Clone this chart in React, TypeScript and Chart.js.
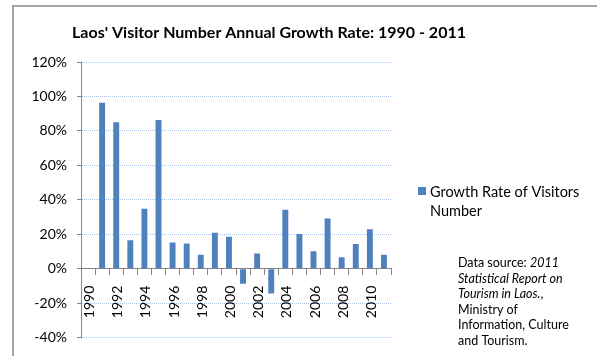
import React, { useEffect, useRef } from 'react';
import { Chart, registerables } from 'chart.js';

Chart.register(...registerables);

const years = ['1990', '1991', '1992', '1993', '1994', '1995', '1996', '1997', '1998', '1999', '2000', '2001', '2002', '2003', '2004', '2005', '2006', '2007', '2008', '2009', '2010', '2011'];
const growthRate = [null, 96.3, 85.0, 16.5, 34.8, 86.3, 15.2, 14.6, 8.1, 20.9, 18.6, -8.8, 8.8, -14.4, 34.2, 20.2, 10.2, 29.2, 6.7, 14.4, 22.9, 8.1];
const yMin = -40;
const yMax = 120;
const yStep = 20;
const titleText = "Laos' Visitor Number Annual Growth Rate: 1990 - 2011";
const legendLines = ['Growth Rate of Visitors', 'Number'];
const sourceLines: [string, boolean][][] = [
  [['Data source: ', false], ['2011', true]],
  [['Statistical Report on', true]],
  [['Tourism in Laos.', true], [',', false]],
  [['Ministry of', false]],
  [['Information, Culture', false]],
  [['and Tourism.', false]],
];

const FONT = 'Lato, "Open Sans", sans-serif';
const BAR = '#4f81bd';

const decorPlugin = {
  id: 'decor',
  beforeDraw(chart: any) {
    const ctx = chart.ctx;
    ctx.save();
    ctx.fillStyle = '#ffffff';
    ctx.fillRect(0, 0, chart.width, chart.height);
    ctx.strokeStyle = '#a6a6a6';
    ctx.lineWidth = 2;
    ctx.strokeRect(13, 6, 620, 400);
    ctx.restore();
  },
  afterDraw(chart: any) {
    const ctx = chart.ctx;
    const xs = chart.scales.x;
    const ys = chart.scales.y;
    ctx.save();
    // x-axis tick labels (vertical, reading upward), every other year
    const y0 = ys.getPixelForValue(0);
    ctx.fillStyle = '#000';
    ctx.font = `14px ${FONT}`;
    ctx.textAlign = 'right';
    ctx.textBaseline = 'middle';
    years.forEach((yr, i) => {
      if (i % 2 !== 0) return;
      const x = xs.getPixelForValue(i);
      ctx.save();
      ctx.translate(x + 1.5, y0 + 17);
      ctx.rotate(-Math.PI / 2);
      ctx.fillText(yr, 0, 0);
      ctx.restore();
    });
    // title
    ctx.font = `bold 16px ${FONT}`;
    ctx.textAlign = 'center';
    ctx.textBaseline = 'alphabetic';
    ctx.fillText(titleText, 269, 38);
    // legend
    ctx.fillStyle = BAR;
    ctx.fillRect(418, 187, 8, 8);
    ctx.fillStyle = '#000';
    ctx.font = `14.5px ${FONT}`;
    ctx.textAlign = 'left';
    ctx.fillText(legendLines[0], 430, 197);
    ctx.fillText(legendLines[1], 430, 216);
    // data source note
    let y = 267;
    for (const line of sourceLines) {
      let x = 458;
      for (const [txt, it] of line) {
        ctx.font = `${it ? 'italic ' : ''}12.5px ${FONT}`;
        ctx.fillText(txt, x, y);
        x += ctx.measureText(txt).width;
      }
      y += 15.5;
    }
    ctx.restore();
  },
};

export default function App() {
  const ref = useRef<HTMLCanvasElement>(null);
  useEffect(() => {
    const chart = new Chart(ref.current!, {
      type: 'bar',
      data: {
        labels: years,
        datasets: [
          {
            label: legendLines.join(' '),
            data: growthRate as any,
            backgroundColor: BAR,
            borderWidth: 0,
            barPercentage: 0.42,
            categoryPercentage: 1,
          },
        ],
      },
      options: {
        responsive: false,
        animation: false,
        layout: { padding: { left: 0, top: 62, right: 206, bottom: 16 } },
        plugins: { legend: { display: false }, title: { display: false }, tooltip: { enabled: false } },
        scales: {
          x: {
            position: { y: 0 } as any,
            offset: true,
            grid: {
              display: true,
              offset: true,
              drawOnChartArea: false,
              drawTicks: true,
              tickLength: 6,
              tickColor: '#868686',
            },
            border: { display: true, color: '#868686', width: 1 },
            ticks: { display: false, autoSkip: false },
          },
          y: {
            min: yMin,
            max: yMax,
            afterFit: (s: any) => {
              s.width = 81;
            },
            grid: {
              color: '#a9c6ea',
              lineWidth: 1,
              drawTicks: true,
              tickLength: 4,
              tickColor: '#868686',
            },
            border: { display: true, color: '#868686', width: 1, dash: [1, 1] },
            ticks: {
              stepSize: yStep,
              padding: 10,
              color: '#000',
              font: { family: FONT, size: 14 },
              callback: (v: any) => `${v}%`,
            },
          },
        },
      },
      plugins: [decorPlugin],
    });
    return () => chart.destroy();
  }, []);
  return (
    <div style={{ position: 'absolute', left: 0, top: 0, width: 597, height: 356 }}>
      <canvas ref={ref} width={597} height={356} />
    </div>
  );
}
